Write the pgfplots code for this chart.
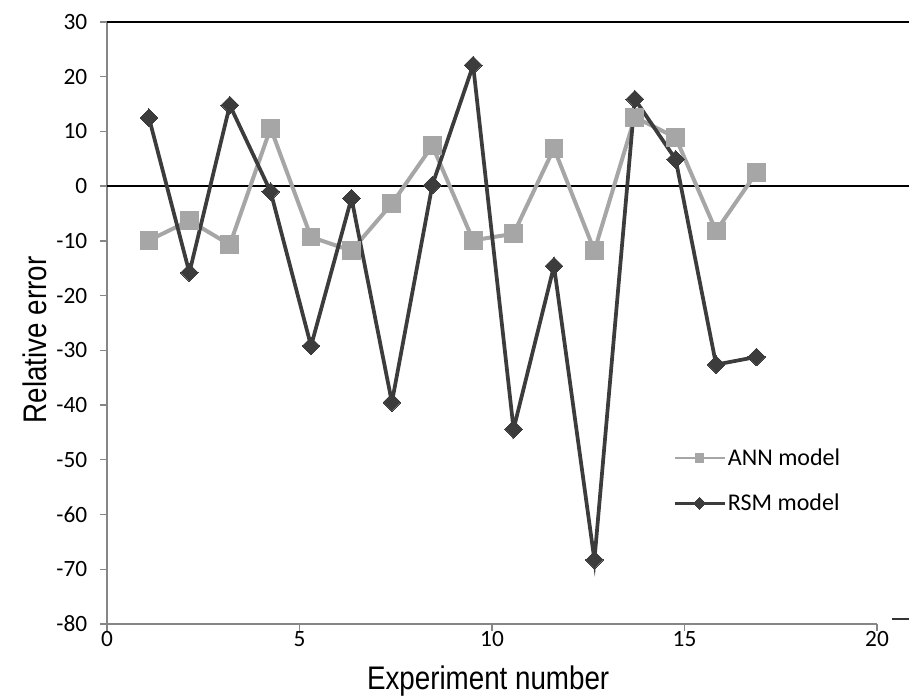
\documentclass[border=0pt]{standalone}
\usepackage{fontspec}
\usepackage{pgfplots}
\pgfplotsset{compat=1.18}
\setmainfont{Carlito}
\newfontfamily\labfont[FakeStretch=0.85]{Liberation Sans}

\definecolor{anngray}{RGB}{166,166,166}
\definecolor{rsmdark}{RGB}{60,60,60}
\definecolor{axgray}{RGB}{134,134,134}

% 1px = 0.75pt
\pgfplotstableread{
x      ann    rsm
1.09   -9.9   12.5
2.14   -6.3  -15.8
3.19  -10.7   14.8
4.25   10.6   -1.0
5.30   -9.3  -29.2
6.35  -11.8   -2.2
7.40   -3.2  -39.5
8.45    7.4    0.2
9.51   -9.9   22.1
10.56  -8.7  -44.4
11.61   6.9  -14.6
12.66 -11.8  -68.3
13.71  12.6   15.9
14.77   8.9    4.9
15.82  -8.2  -32.6
16.87   2.5  -31.2
}\errdata

\begin{document}
\begin{tikzpicture}
\begin{axis}[
    scale only axis,
    width=577.5pt, height=451.5pt,
    xmin=0, xmax=20, ymin=-80, ymax=30,
    xtick={0,5,10,15,20},
    ytick={-80,-70,...,30},
    axis lines=left,
    axis line style={-, draw=axgray, line width=1pt},
    tick style={draw=axgray, line width=1pt},
    tick align=outside,
    major tick length=5.25pt,
    minor tick num=0,
    clip=false,
    /pgf/number format/assume math mode=true,
    tick label style={font=\fontsize{17.5pt}{20pt}\selectfont},
    yticklabel style={xshift=-6pt},
    xticklabel style={yshift=3pt},
    every axis y label/.style={at={(axis description cs:0,0.472)}, xshift=-54pt, rotate=90, anchor=center},
    every axis x label/.style={at={(axis description cs:0.495,0)}, yshift=-42.75pt, anchor=center},
    xlabel={\labfont\fontsize{24.5pt}{28pt}\selectfont Experiment number},
    ylabel={\labfont\fontsize{24.5pt}{28pt}\selectfont Relative error},
    legend style={draw=none, fill=none, inner sep=0pt, row sep=17pt,
        at={(axis cs:14.70,-53.8)}, anchor=west,
        font=\fontsize{18pt}{20pt}\selectfont,
        nodes={inner sep=1.5pt}},
    legend cell align=left,
    legend image code/.code={
        \draw[mark repeat=2, mark phase=2, #1, line width=2pt, mark size=3.2pt]
            plot coordinates {(0cm,0cm) (0.66cm,0cm) (1.32cm,0cm)};
    },
]
% reference lines across the plot
\addplot[black, line width=1.3pt, forget plot] coordinates {(0,30) (20.9,30)};
\addplot[black, line width=1pt, forget plot] coordinates {(0,0) (20.9,0)};
\addplot[black!80, line width=1.2pt, forget plot] coordinates {(20.39,-79.1) (20.9,-79.1)};

\addplot[anngray, line width=3pt, mark=square*, mark size=6.7pt,
    mark options={solid, fill=anngray, draw=anngray, line width=0pt}]
    table[x=x, y=ann] {\errdata};
\addlegendentry{ANN model}

\addplot[rsmdark, line width=2.8pt, mark=square*, mark size=4.7pt,
    mark options={solid, rotate=45, fill=rsmdark, draw=rsmdark, line width=0pt}]
    table[x=x, y=rsm] {\errdata};
\addlegendentry{RSM model}

\coordinate (O) at (axis cs:0,-80);
\end{axis}
\pgfresetboundingbox
\path (O) ++(-80.25pt,-55.5pt) rectangle ++(681.75pt,523.5pt);
\end{tikzpicture}
\end{document}
